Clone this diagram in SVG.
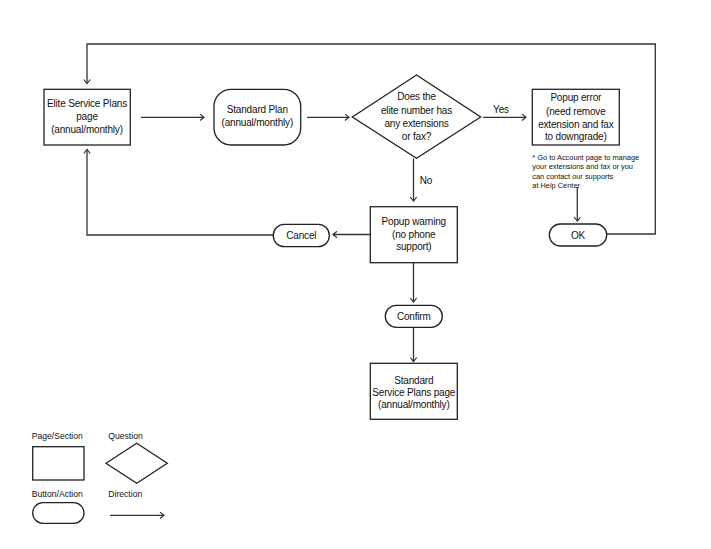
<svg xmlns="http://www.w3.org/2000/svg" width="711" height="549" viewBox="0 0 711 549">
<style>
.shape{fill:#fff;stroke:#222;stroke-width:1.3}
.ln{fill:none;stroke:#333;stroke-width:1.3}
text{font-family:"Liberation Sans",Arial,sans-serif;font-size:10px;fill:#111;text-anchor:middle;letter-spacing:-0.18px}
.note{font-size:7.4px;text-anchor:start;letter-spacing:0}
.lg{font-size:8.6px;text-anchor:start;letter-spacing:0}
</style>
<defs>
<marker id="ah" markerWidth="8" markerHeight="8" refX="5" refY="4" orient="auto" markerUnits="userSpaceOnUse">
<path d="M1,0.8 L5,4 L1,7.2" fill="none" stroke="#333" stroke-width="1.2"/>
</marker>
</defs>
<rect width="711" height="549" fill="#fff"/>
<g id="connectors">
<line class="ln" x1="141" y1="117.3" x2="204" y2="117.3" marker-end="url(#ah)"/>
<line class="ln" x1="307" y1="117.3" x2="349" y2="117.3" marker-end="url(#ah)"/>
<line class="ln" x1="483" y1="117.3" x2="526" y2="117.3" marker-end="url(#ah)"/>
<text x="501" y="113">Yes</text>
<line class="ln" x1="413.5" y1="158.5" x2="413.5" y2="201" marker-end="url(#ah)"/>
<text x="426" y="183.5">No</text>
<line class="ln" x1="370" y1="234.5" x2="333" y2="234.5" marker-end="url(#ah)"/>
<polyline class="ln" points="273,235 87,235 87,149.5" marker-end="url(#ah)"/>
<line class="ln" x1="413.5" y1="263" x2="413.5" y2="302" marker-end="url(#ah)"/>
<line class="ln" x1="413.5" y1="327.5" x2="413.5" y2="361.5" marker-end="url(#ah)"/>
<line class="ln" x1="577.3" y1="187" x2="577.3" y2="221" marker-end="url(#ah)"/>
<polyline class="ln" points="607,234 655.3,234 655.3,44 87,44 87,83.5" marker-end="url(#ah)"/>
</g>
<g id="elite-page">
<rect class="shape" x="44" y="89.3" width="86.3" height="55.7"/>
<text x="87" y="107">Elite Service Plans</text>
<text x="87" y="120">page</text>
<text x="87" y="132.7">(annual/monthly)</text>
</g>
<g id="standard-plan">
<rect class="shape" x="214" y="89.3" width="86.7" height="55.7" rx="17" ry="17"/>
<text x="257.3" y="112.7">Standard Plan</text>
<text x="257.3" y="126">(annual/monthly)</text>
</g>
<g id="question">
<polygon class="shape" points="352.3,117 416.5,75 480.7,117 416.5,158.3"/>
<text x="416.5" y="100.3">Does the</text>
<text x="416.5" y="114">elite number has</text>
<text x="416.5" y="127">any extensions</text>
<text x="416.5" y="139.7">or fax?</text>
</g>
<g id="popup-error">
<rect class="shape" x="532.3" y="89.3" width="87" height="55.7"/>
<text x="575.8" y="101">Popup error</text>
<text x="575.8" y="114.5">(need remove</text>
<text x="575.8" y="127.5">extension and fax</text>
<text x="575.8" y="140.3">to downgrade)</text>
</g>
<g id="note">
<text class="note" x="532.3" y="159.7">* Go to Account page to manage</text>
<text class="note" x="532.3" y="169.3">your extensions and fax or you</text>
<text class="note" x="532.3" y="178.7">can contact our supports</text>
<text class="note" x="532.3" y="188">at Help Center</text>
</g>
<g id="ok">
<rect class="shape" x="549.3" y="224" width="57.4" height="22" rx="11" ry="11"/>
<text x="578" y="238.7">OK</text>
</g>
<g id="popup-warning">
<rect class="shape" x="370.3" y="206.7" width="87" height="56"/>
<text x="413.8" y="224.5">Popup warning</text>
<text x="413.8" y="237.5">(no phone</text>
<text x="413.8" y="249.7">support)</text>
</g>
<g id="cancel">
<rect class="shape" x="273.3" y="224.3" width="56" height="22.4" rx="11" ry="11"/>
<text x="301.3" y="239">Cancel</text>
</g>
<g id="confirm">
<rect class="shape" x="385.3" y="305.3" width="57" height="22" rx="11" ry="11"/>
<text x="413.8" y="320">Confirm</text>
</g>
<g id="standard-page">
<rect class="shape" x="370.3" y="363.3" width="87" height="56"/>
<text x="413.8" y="383.5">Standard</text>
<text x="413.8" y="396">Service Plans page</text>
<text x="413.8" y="408.3">(annual/monthly)</text>
</g>
<g id="legend">
<text class="lg" x="31.7" y="438.5">Page/Section</text>
<rect class="shape" x="32.7" y="446.7" width="51.3" height="33.3"/>
<text class="lg" x="108.3" y="438.5">Question</text>
<polygon class="shape" points="106,463.3 136.7,443.3 167.3,463.3 136.7,483.3"/>
<text class="lg" x="31.7" y="497.3">Button/Action</text>
<rect class="shape" x="32.7" y="502.7" width="51.3" height="20.6" rx="10.3" ry="10.3"/>
<text class="lg" x="108.3" y="497.3">Direction</text>
<line class="ln" x1="110" y1="515.3" x2="164" y2="515.3" marker-end="url(#ah)"/>
</g>
</svg>
